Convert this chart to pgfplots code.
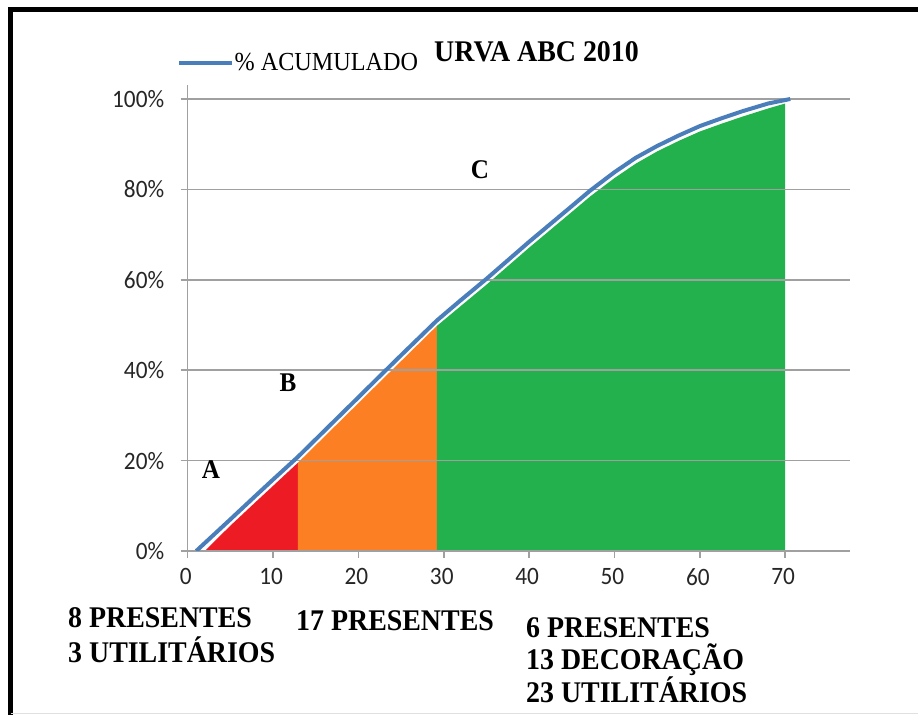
\documentclass[border=0pt]{standalone}
\usepackage{fontspec}
\setmainfont{Liberation Serif}
\newfontfamily\cserif[FakeStretch=0.93]{Liberation Serif}
\newfontfamily\tickfont[FakeStretch=0.93]{Carlito}
\usepackage{pgfplots}
\pgfplotsset{compat=1.18}
\definecolor{cblue}{HTML}{4A7EBB}
\definecolor{cred}{HTML}{ED1C24}
\definecolor{corange}{HTML}{FD7F23}
\definecolor{cgreen}{HTML}{22B14C}
\definecolor{cgrid}{HTML}{A0A0A0}
\begin{document}
\begin{tikzpicture}[x=1bp,y=1bp]
\begin{axis}[
  set layers,
  at={(187.7bp,164bp)}, anchor=south west,
  scale only axis, width=662.3bp, height=466bp,
  xmin=0, xmax=77.6, ymin=0, ymax=103.1,
  axis x line*=bottom, axis y line*=left,
  axis line style={cgrid, line width=1.5bp},
  xtick={0,10,...,70}, ytick={0,20,...,100},
  ymajorgrids, grid style={cgrid, line width=1.5bp},
  tick align=outside, major tick length=7bp,
  tick style={cgrid, line width=1.5bp},
  /pgf/number format/assume math mode=true,
  yticklabel={\pgfmathprintnumber{\tick}\%},
  ticklabel style={font=\tickfont\fontsize{25bp}{25bp}\selectfont, text=black!85},
  yticklabel style={xshift=-13bp},
  xticklabel style={yshift=-7bp, xshift=-2bp},
  legend style={draw=none, fill=none, inner sep=0pt, anchor=west,
    at={(rel axis cs:-0.0162,1.047)},
    font=\cserif\fontsize{26bp}{26bp}\selectfont,
    nodes={inner sep=0.5bp}},
  legend image code/.code={\draw[#1] (0bp,0bp) -- (53bp,0bp);},
]
\addplot[fill=cred, draw=none, on layer=axis background, forget plot]
  coordinates {(2,0)(5,5.6)(8,10.9)(10,14.4)(12.9,19.5)} \closedcycle;
\addplot[fill=corange, draw=none, on layer=axis background, forget plot]
  coordinates {(12.9,19.5)(15,23.4)(20,32.7)(22.3,37)(25,42)(29.2,49.8)} \closedcycle;
\addplot[fill=cgreen, draw=none, on layer=axis background, forget plot]
  coordinates {(29.2,49.8)(32,54.2)(35,58.9)(40,67.1)(45,75.0)(47.2,78.5)(50,82.5)(52.5,85.7)(55,88.4)(57.5,90.7)(60,92.8)(62.5,94.5)(65,96.1)(68,97.9)(70,99.0)} \closedcycle;
\addplot[cblue, line width=4bp]
  coordinates {(1,0)(3,3.5)(5,7)(8,12.3)(10,15.8)(12.9,20.8)(15,24.7)(20,34)(22.3,38.3)(25,43.3)(29.2,51)(32,55.5)(35,60.2)(40,68.4)(45,76.3)(47.2,79.8)(50,83.8)(52.5,87)(55,89.6)(57.5,91.9)(60,94)(62.5,95.7)(65,97.3)(68,99)(70.6,100)};
\addlegendentry{\% ACUMULADO}
\end{axis}
% frame
\draw[black, line width=5bp] (10.5,0) -- (10.5,705) -- (918,705);
\draw[black!12, line width=1bp] (10.5,1) -- (918,1);
% title
\node[anchor=base west, inner sep=0] at (434,653) {\cserif\bfseries\fontsize{30bp}{30bp}\selectfont URVA ABC 2010};
% region letters
\begin{scope}[every node/.style={inner sep=0}]
\node at (211,245) {\cserif\bfseries\fontsize{27bp}{27bp}\selectfont A};
\node at (288,332) {\cserif\bfseries\fontsize{27bp}{27bp}\selectfont B};
\node at (480,545) {\cserif\bfseries\fontsize{27bp}{27bp}\selectfont C};
\end{scope}
% bottom notes
\begin{scope}[every node/.style={anchor=base west, inner sep=0, font=\cserif\bfseries\fontsize{30bp}{30bp}\selectfont}]
\node at (68,87) {8 PRESENTES};
\node at (68,52) {3 UTILITÁRIOS};
\node at (296,84) {17 PRESENTES};
\node at (526,77) {6 PRESENTES};
\node at (526,45) {13 DECORAÇÃO};
\node at (526,12) {23 UTILITÁRIOS};
\end{scope}
\pgfresetboundingbox
\useasboundingbox (0,0) rectangle (918,715);
\end{tikzpicture}
\end{document}
